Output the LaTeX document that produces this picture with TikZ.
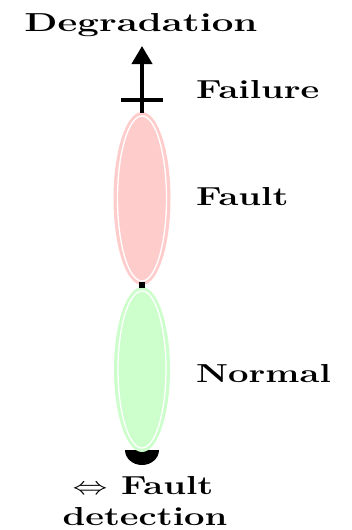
\documentclass[tikz,border=0pt]{standalone}
\usepackage{amssymb}
\usetikzlibrary{arrows.meta}
\begin{document}
\begin{tikzpicture}[x=1pt,y=-1pt,
  lbl/.style={inner sep=0pt,font=\fontsize{26}{30}\selectfont\bfseries},
  axis/.style={line width=4pt,draw=black}]
\useasboundingbox (0,0) rectangle (352,530);
% state regions along the degradation axis
\fill[black] (125,450) arc[start angle=180,end angle=0,x radius=17,y radius=15] -- cycle;
\fill[red!20] (142,198.5) ellipse[x radius=28.5,y radius=86.5];
\draw[white,line width=1.3pt] (142,198.5) ellipse[x radius=24.5,y radius=82.5];
\fill[green!20] (142,369.5) ellipse[x radius=28,y radius=82.5];
\draw[white,line width=1.3pt] (142,369.5) ellipse[x radius=24,y radius=78.5];
\fill[black] (139,282) rectangle (145,288);
% failure threshold and degradation arrow
\coordinate (stem) at (142,113);
\coordinate (tip) at (142,46);
\coordinate (barL) at (121,100);
\coordinate (barR) at (163,100);
\draw[axis,-{Triangle[length=18pt,width=20pt]}] (stem) -- (tip);
\draw[axis] (barL) -- (barR);
% labels
\node[lbl,anchor=base] (deg) at (141,31) {\scalebox{1.48}[1]{Degradation}};
\node[lbl,anchor=base west] (fail) at (196,98) {\scalebox{1.4}[1]{Failure}};
\node[lbl,anchor=base west] (fault) at (196,205) {\scalebox{1.4}[1]{Fault}};
\node[lbl,anchor=base west] (norm) at (196,382) {\scalebox{1.4}[1]{Normal}};
\node[lbl,anchor=base] (fd1) at (143,494) {\scalebox{1.4}[1]{$\Leftrightarrow$ Fault}};
\node[lbl,anchor=base] (fd2) at (145,525) {\scalebox{1.4}[1]{detection}};
\end{tikzpicture}
\end{document}
